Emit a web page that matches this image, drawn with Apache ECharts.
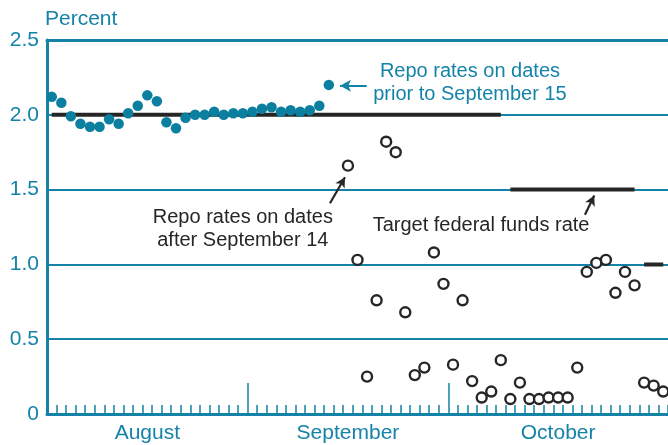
<!DOCTYPE html>
<html>
<head>
<meta charset="utf-8">
<script src="https://cdn.jsdelivr.net/npm/echarts@6/dist/echarts.min.js"></script>
<style>
    html, body { margin: 0; padding: 0; background: #fff; }
    #chart { width: 668px; height: 445px; }
</style>
</head>
<body>
<div id="chart"></div>
<script>
    // business days on the axis (one slot per day)
    const augDays = [1, 4, 5, 6, 7, 8, 11, 12, 13, 14, 15, 18, 19, 20, 21, 22, 25, 26, 27, 28, 29]
    const sepDays = [2, 3, 4, 5, 8, 9, 10, 11, 12, 15, 16, 17, 18, 19, 22, 23, 24, 25, 26, 29, 30]
    const octDays = [1, 2, 3, 6, 7, 8, 9, 10, 13, 14, 15, 16, 17, 20, 21, 22, 23, 24, 27, 28, 29, 30, 31]
    const monthNames = ['August', 'September', 'October']
    const yTicks = [0, 0.5, 1.0, 1.5, 2.0, 2.5]

    // repo rates, Aug 1 - Sep 12
    const repoBefore = [2.12, 2.08, 1.99, 1.94, 1.92, 1.92, 1.97, 1.94, 2.01, 2.06,
        2.13, 2.09, 1.95, 1.91, 1.98, 2.00, 2.00, 2.02, 2.00, 2.01,
        2.01, 2.02, 2.04, 2.05, 2.02, 2.03, 2.02, 2.03, 2.06, 2.20]
    // repo rates, Sep 15 - Oct 31 (nothing plotted for Sep 15)
    const repoAfter = [null, 1.66, 1.03, 0.25, 0.76, 1.82, 1.75, 0.68, 0.26, 0.31,
        1.08, 0.87, 0.33, 0.76, 0.22, 0.11, 0.15, 0.36, 0.10, 0.21,
        0.10, 0.10, 0.11, 0.11, 0.11, 0.31, 0.95, 1.01, 1.03, 0.81,
        0.95, 0.86, 0.21, 0.19, 0.15]
    // target federal funds rate, one value per day
    const targetRate = [
        // August
        2.0, 2.0, 2.0, 2.0, 2.0, 2.0, 2.0, 2.0, 2.0, 2.0, 2.0, 2.0, 2.0, 2.0, 2.0, 2.0, 2.0, 2.0, 2.0, 2.0, 2.0,
        // September
        2.0, 2.0, 2.0, 2.0, 2.0, 2.0, 2.0, 2.0, 2.0, 2.0, 2.0, 2.0, 2.0, 2.0, 2.0, 2.0, 2.0, 2.0, 2.0, 2.0, 2.0,
        // October
        2.0, 2.0, 2.0, 2.0, 2.0, 2.0, 1.5, 1.5, 1.5, 1.5, 1.5, 1.5, 1.5, 1.5, 1.5, 1.5, 1.5, 1.5, 1.5, 1.5,
        1.0, 1.0, 1.0
    ]

    const teal = '#1583a8'
    const dotTeal = '#0b7fa0'
    const ink = '#262626'
    const fontFamily = '"Liberation Sans", Arial, Helvetica, sans-serif'

    const months = [augDays, sepDays, octDays]
    const shortNames = ['Aug', 'Sep', 'Oct']
    const categories = []
    const monthOfSlot = []
    months.forEach((days, m) => days.forEach(d => {
        categories.push(shortNames[m] + ' ' + d)
        monthOfSlot.push(m)
    }))
    const slotCount = categories.length

    // month boundaries and label slots
    const monthBounds = []
    const labelSlots = []
    let acc = 0
    months.forEach((days, m) => {
        labelSlots.push(acc + Math.floor(days.length / 2))
        acc += days.length
        if (m < months.length - 1) monthBounds.push(acc)
    })

    // split target rate into flat runs
    const targetRuns = []
    targetRate.forEach((v, i) => {
        const last = targetRuns[targetRuns.length - 1]
        if (last && last.rate === v) last.end = i
        else targetRuns.push({rate: v, start: i, end: i})
    })

    const beforeData = categories.map((c, i) => i < repoBefore.length ? repoBefore[i] : null)
    const afterData = categories.map((c, i) => i >= repoBefore.length ? repoAfter[i - repoBefore.length] : null)

    const chart = echarts.init(document.getElementById('chart'))

    const option = {
        animation: false,
        textStyle: {fontFamily},
        title: {
            text: 'Percent',
            left: 40,
            top: 4,
            textStyle: {color: teal, fontSize: 21, fontWeight: 'normal', fontFamily}
        },
        grid: {left: 47, right: 0, top: 40, bottom: 31},
        xAxis: [
            {
                type: 'category',
                data: categories,
                boundaryGap: true,
                axisLine: {lineStyle: {color: teal, width: 3}},
                axisTick: {show: true, inside: true, length: 9, interval: 0, lineStyle: {color: teal, width: 1.5}},
                axisLabel: {
                    interval: (i) => labelSlots.includes(i),
                    formatter: (v, i) => monthNames[monthOfSlot[i]],
                    color: teal,
                    fontSize: 21,
                    margin: 9,
                    fontFamily
                },
                splitLine: {show: false}
            },
            {
                // long ticks at month boundaries
                type: 'value',
                position: 'bottom',
                min: 0,
                max: slotCount,
                axisLine: {show: false},
                axisTick: {show: true, inside: true, length: 31, customValues: monthBounds, lineStyle: {color: teal, width: 1.5}},
                axisLabel: {show: false},
                splitLine: {show: false}
            },
            {
                // frame line on top
                type: 'value',
                position: 'top',
                min: 0,
                max: slotCount,
                axisLine: {show: true, lineStyle: {color: teal, width: 3}},
                axisTick: {show: false},
                axisLabel: {show: false},
                splitLine: {show: false}
            }
        ],
        yAxis: {
            type: 'value',
            min: yTicks[0],
            max: yTicks[yTicks.length - 1],
            interval: 0.5,
            axisLine: {show: true, lineStyle: {color: teal, width: 3}},
            axisTick: {show: false},
            axisLabel: {
                color: teal,
                fontSize: 21,
                margin: 8,
                fontFamily,
                formatter: v => v === 0 ? '0' : v.toFixed(1)
            },
            splitLine: {lineStyle: {color: teal, width: 2}}
        },
        series: [
            ...targetRuns.map(run => ({
                type: 'line',
                data: categories.map((c, i) => i >= run.start && i <= run.end ? run.rate : null),
                symbol: 'none',
                lineStyle: {color: ink, width: 4},
                z: 6
            })),
            {
                name: 'Repo rates on dates prior to September 15',
                type: 'scatter',
                data: beforeData,
                symbol: 'circle',
                symbolSize: 10.5,
                itemStyle: {color: dotTeal, opacity: 1},
                z: 7
            },
            {
                name: 'Repo rates on dates after September 14',
                type: 'scatter',
                data: afterData,
                symbol: 'circle',
                symbolSize: 10,
                itemStyle: {color: '#fff', borderColor: ink, borderWidth: 2.4, opacity: 1},
                z: 7
            },
            {
                // teal arrow
                type: 'scatter',
                xAxisIndex: 1,
                data: [],
                silent: true,
                markLine: {
                    silent: true,
                    symbol: ['none', 'arrow'],
                    symbolSize: [9, 11],
                    label: {show: false},
                    lineStyle: {color: teal, width: 2, type: 'solid'},
                    data: [[{coord: [33.46, 2.195]}, {coord: [30.67, 2.195]}]]
                },
                z: 8
            },
            {
                // black arrows
                type: 'scatter',
                xAxisIndex: 1,
                data: [],
                silent: true,
                markLine: {
                    silent: true,
                    symbol: ['none', 'arrow'],
                    symbolSize: [8, 10],
                    label: {show: false},
                    lineStyle: {color: ink, width: 2.2, type: 'solid'},
                    data: [
                        [{coord: [29.62, 1.409]}, {coord: [31.19, 1.583]}],
                        [{coord: [56.31, 1.332]}, {coord: [57.28, 1.46]}]
                    ]
                },
                z: 8
            }
        ]
    }
    chart.setOption(option)

    // annotation text placed in data coordinates
    const notes = [
        {text: 'Repo rates on dates\nprior to September 15', at: [44.27, 2.21], color: teal},
        {text: 'Repo rates on dates\nafter September 14', at: [20.5, 1.236], color: ink},
        {text: 'Target federal funds rate', at: [45.43, 1.261], color: ink}
    ]
    const toPx = p => chart.convertToPixel({xAxisIndex: 1, yAxisIndex: 0}, p)
    chart.setOption({
        graphic: notes.map(n => {
            const [x, y] = toPx(n.at)
            return {
                type: 'text',
                x, y,
                z: 10,
                style: {
                    text: n.text,
                    fill: n.color,
                    fontSize: 20,
                    fontFamily,
                    align: 'center',
                    verticalAlign: 'middle',
                    lineHeight: 23
                }
            }
        })
    })
</script>
</body>
</html>
